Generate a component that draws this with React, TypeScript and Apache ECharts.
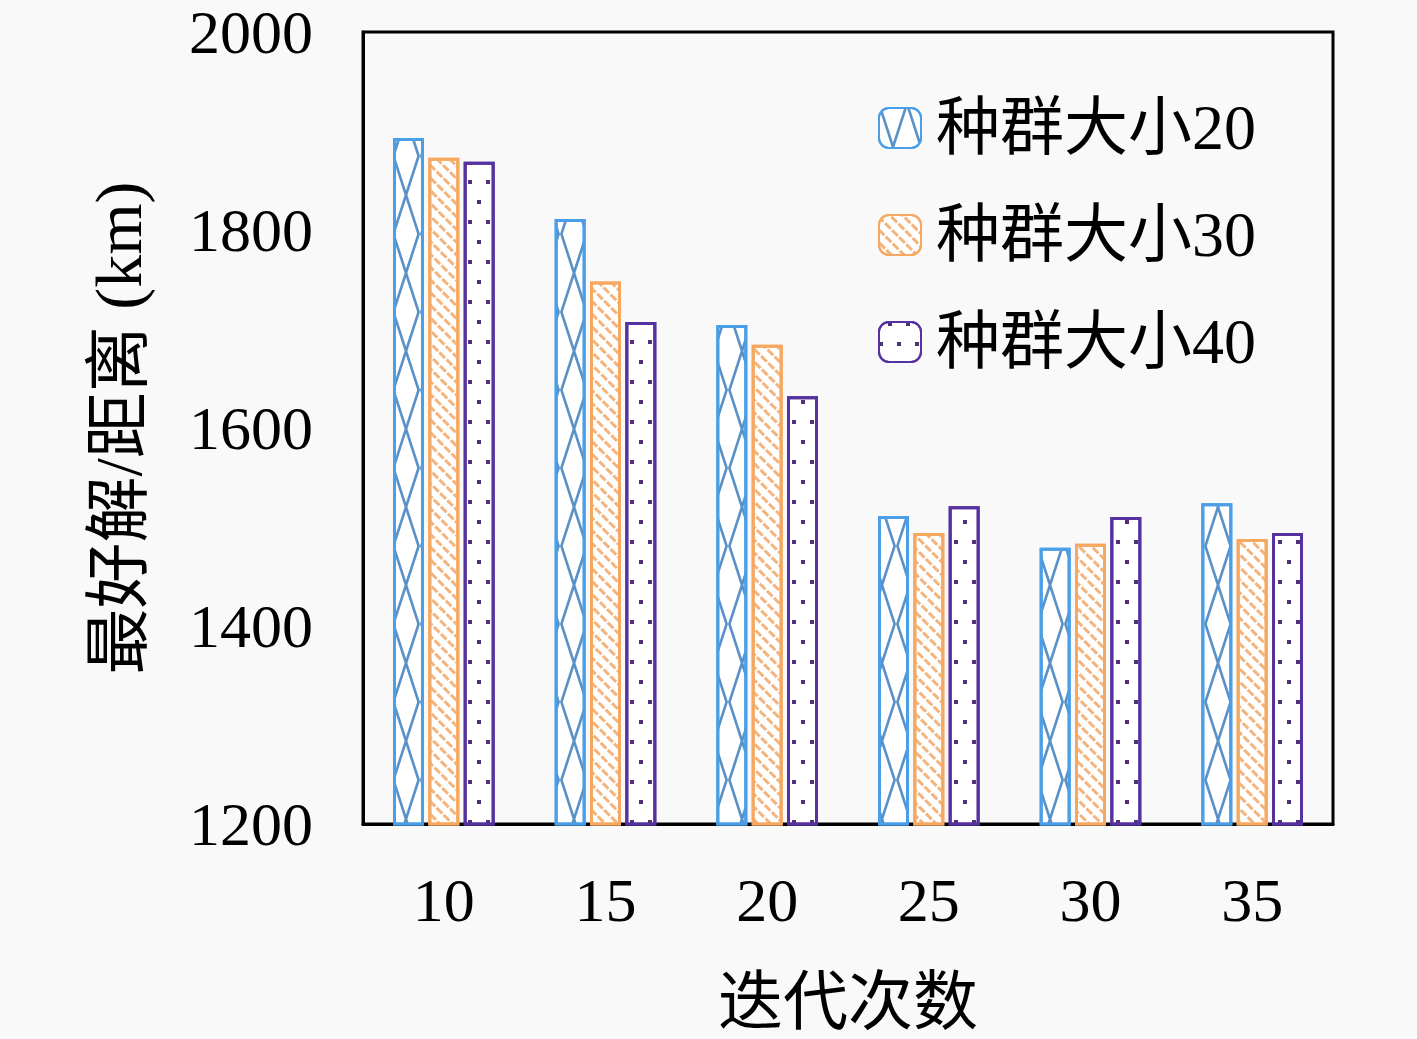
import React, { useEffect, useRef } from "react";
import * as echarts from "echarts";

const categories = ["10", "15", "20", "25", "30", "35"];
const seriesNames = ["种群大小20", "种群大小30", "种群大小40"];
const pop20 = [1893, 1811, 1704, 1511, 1479, 1524];
const pop30 = [1873, 1748, 1684, 1494, 1483, 1488];
const pop40 = [1869, 1707, 1632, 1521, 1510, 1494];
const yTicks = { min: 1200, max: 2000, interval: 200 };

const FONT = "'Liberation Serif', 'Noto Sans CJK SC', serif";

const xPath =
  "path://M0,0L1,0L10,10L9,10Z M9,0L10,0L1,10L0,10Z";

export default function App() {
  const ref = useRef<HTMLDivElement>(null);
  useEffect(() => {
    if (!ref.current) return;
    const chart = echarts.init(ref.current, null, { renderer: "svg" });
    const colors = ["#4a9fe8", "#f7a860", "#5631a0"];
    const decals = [
      {
        symbol: xPath,
        symbolSize: 1,
        symbolKeepAspect: false,
        color: "#5a92c8",
        dashArrayX: [[28, 0]],
        dashArrayY: [78, 0],
      },
      {
        symbol: "rect",
        symbolSize: 1,
        color: "#f3b47e",
        dashArrayX: [[8, 2]],
        dashArrayY: [2.5, 6],
        rotation: Math.PI / 4,
      },
      {
        symbol: "rect",
        symbolSize: 1,
        color: "#50307a",
        dashArrayX: [
          [4, 14],
          [0, 9, 4, 5],
        ],
        dashArrayY: [4, 16],
      },
    ];
    const data = [pop20, pop30, pop40];
    chart.setOption({
      animation: false,
      backgroundColor: "#f9f9f9",
      grid: {
        left: 363,
        right: 84,
        top: 32,
        bottom: 207,
        show: true,
        borderColor: "#000",
        borderWidth: 3,
        backgroundColor: "transparent",
      },
      legend: {
        orient: "vertical",
        left: 873,
        top: 91,
        itemWidth: 42,
        itemHeight: 40,
        itemGap: 43,
        data: seriesNames,
        textStyle: {
          fontFamily: FONT,
          fontSize: 64,
          color: "#000",
          padding: [0, 0, 0, 10],
        },
      },
      xAxis: {
        type: "category",
        data: categories,
        name: "迭代次数",
        nameLocation: "middle",
        nameGap: 145,
        nameTextStyle: { fontFamily: FONT, fontSize: 65, color: "#000" },
        axisLine: { lineStyle: { color: "#000", width: 3 } },
        axisTick: { show: false },
        axisLabel: { fontFamily: FONT, fontSize: 62, color: "#000", margin: 45 },
      },
      yAxis: {
        type: "value",
        min: yTicks.min,
        max: yTicks.max,
        interval: yTicks.interval,
        name: "最好解/距离 (km)",
        nameLocation: "middle",
        nameGap: 212,
        nameRotate: 90,
        nameTextStyle: { fontFamily: FONT, fontSize: 66, color: "#000" },
        axisLine: { show: true, lineStyle: { color: "#000", width: 3 } },
        axisTick: { show: false },
        splitLine: { show: false },
        axisLabel: {
          fontFamily: FONT,
          fontSize: 62,
          lineHeight: 46,
          color: "#000",
          margin: 50,
          formatter: (v: number) => String(v),
        },
      },
      series: seriesNames.map((name, i) => ({
        name,
        type: "bar",
        data: data[i],
        barWidth: 31,
        barGap: "14%",
        itemStyle: {
          color: "#ffffff",
          borderColor: colors[i],
          borderWidth: 3,
          decal: decals[i],
        },
      })),
    });
    return () => chart.dispose();
  }, []);
  return (
    <div
      ref={ref}
      style={{ position: "fixed", left: 0, top: 0, width: 1417, height: 1039 }}
    />
  );
}
